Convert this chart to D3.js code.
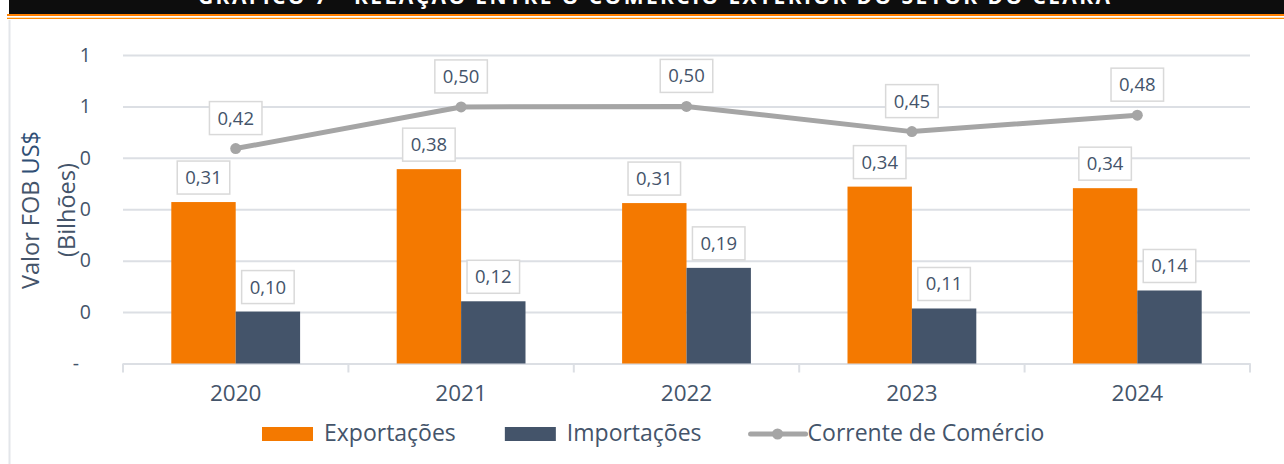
<!DOCTYPE html>
<html>
<head>
<meta charset="utf-8">
<script src="https://cdn.jsdelivr.net/npm/d3@7"></script>
<style>
  body { margin: 0; background: #fff; }
  text { font-family: "Open Sans", "Noto Sans", sans-serif; }
</style>
</head>
<body>
<div id="chart-div"></div>
<script>
// data (US$ bilhões)
const years = ["2020", "2021", "2022", "2023", "2024"];
const exportacoes = [0.314, 0.378, 0.312, 0.344, 0.341];
const importacoes = [0.101, 0.121, 0.186, 0.107, 0.142];
const corrente = [0.418, 0.499, 0.500, 0.451, 0.483];
const seriesNames = ["Exportações", "Importações", "Corrente de Comércio"];
const yTicks = [0, 0.1, 0.2, 0.3, 0.4, 0.5, 0.6];
const yTickLabels = ["-", "0", "0", "0", "0", "1", "1"];
const title = "GRÁFICO 7 - RELAÇÃO ENTRE O COMÉRCIO EXTERIOR DO SETOR DO CEARÁ";

// set the dimensions of the graph
const W = 1284, H = 464;
const plot = {left: 123, right: 1250, top: 55, bottom: 363.5};

const orange = "#f47900", navy = "#44546a", gray = "#a5a5a5",
      textColor = "#44546a", gridColor = "#dcdfe4";

const fmt = v => d3.format(".2f")(v).replace(".", ",");

function draw_chart() {
  let svg = d3.select("#chart-div")
              .append("svg")
              .attr("width", W)
              .attr("height", H);

  // header bar with title (only its lower part shows, as in the source)
  svg.append("rect").attr("x", 9).attr("y", 0).attr("width", W - 9).attr("height", 14).attr("fill", "#0d0d0d");
  svg.append("rect").attr("x", 7).attr("y", 14).attr("width", W - 7).attr("height", 2).attr("fill", "#ff8000");
  svg.append("rect").attr("x", 7).attr("y", 17.7).attr("width", W - 7).attr("height", 1.3).attr("fill", "#ff8a00");
  svg.append("text")
    .attr("x", 654).attr("y", 4)
    .attr("text-anchor", "middle")
    .attr("textLength", 912).attr("lengthAdjust", "spacing")
    .attr("fill", "#fff").attr("font-weight", "bold").attr("font-size", 21)
    .text(title);
  // left frame border
  svg.append("line").attr("x1", 9.5).attr("x2", 9.5).attr("y1", 20).attr("y2", H)
    .attr("stroke", "#e3e6ea").attr("stroke-width", 2);

  const y = d3.scaleLinear().domain([0, 0.6]).range([plot.bottom, plot.top]);
  const x = d3.scaleBand().domain(years).range([plot.left, plot.right]);
  const xSub = d3.scaleBand().domain(["exp", "imp"]).range([0, x.bandwidth()]).paddingOuter(0.75);

  // gridlines + y tick labels
  const yAxis = svg.append("g")
    .attr("transform", `translate(${plot.left},0)`)
    .call(d3.axisLeft(y).tickValues(yTicks)
      .tickSize(-(plot.right - plot.left))
      .tickPadding(32)
      .tickFormat((d, i) => yTickLabels[i]));
  yAxis.select(".domain").remove();
  yAxis.selectAll(".tick line").attr("stroke", gridColor).attr("stroke-width", 2);
  yAxis.selectAll(".tick text")
    .attr("fill", textColor).attr("font-size", 19.5)
    .attr("font-family", "Open Sans")
    .attr("dx", d => d === 0 ? -12 : 0);

  // y axis title
  const yt = svg.append("text")
    .attr("transform", "translate(39,210) rotate(-90)")
    .attr("text-anchor", "middle")
    .attr("font-size", 23.5).attr("fill", textColor);
  yt.append("tspan").text("Valor FOB ");
  yt.append("tspan").attr("fill", "#2f4f75").text("US$");
  svg.append("text")
    .attr("transform", "translate(75,210) rotate(-90)")
    .attr("text-anchor", "middle")
    .attr("font-size", 23.5).attr("fill", textColor)
    .text("(Bilhões)");

  // x axis: baseline, boundary ticks, labels
  const xAxis = svg.append("g")
    .attr("transform", `translate(0,${plot.bottom})`)
    .call(d3.axisBottom(x).tickSize(0).tickPadding(20));
  xAxis.select(".domain").attr("stroke", gridColor).attr("stroke-width", 2);
  xAxis.selectAll(".tick text").attr("fill", textColor).attr("font-size", 22.5)
    .attr("font-family", "Open Sans").attr("dy", "0.71em")
    .attr("y", 22);
  svg.append("g").selectAll("line")
    .data(years.map(d => x(d)).concat([plot.right]))
    .join("line")
    .attr("x1", d => d).attr("x2", d => d)
    .attr("y1", plot.bottom).attr("y2", plot.bottom + 9)
    .attr("stroke", gridColor).attr("stroke-width", 2);

  // bars
  const rows = years.map((yr, i) => ({yr, exp: exportacoes[i], imp: importacoes[i], cor: corrente[i]}));
  const g = svg.append("g").selectAll("g").data(rows).join("g")
    .attr("transform", d => `translate(${x(d.yr)},0)`);
  g.append("rect")
    .attr("x", xSub("exp")).attr("width", xSub.bandwidth())
    .attr("y", d => y(d.exp)).attr("height", d => y(0) - y(d.exp))
    .attr("fill", orange);
  g.append("rect")
    .attr("x", xSub("imp")).attr("width", xSub.bandwidth())
    .attr("y", d => y(d.imp)).attr("height", d => y(0) - y(d.imp))
    .attr("fill", navy);

  // line
  const cx = d => x(d.yr) + x.bandwidth() / 2;
  svg.append("path")
    .datum(rows)
    .attr("fill", "none").attr("stroke", gray).attr("stroke-width", 5)
    .attr("stroke-linejoin", "round")
    .attr("d", d3.line().x(cx).y(d => y(d.cor)));
  svg.append("g").selectAll("circle").data(rows).join("circle")
    .attr("cx", cx).attr("cy", d => y(d.cor)).attr("r", 5.5)
    .attr("fill", gray);

  // boxed data labels
  const labels = [];
  rows.forEach(d => {
    labels.push({x: x(d.yr) + xSub("exp") + xSub.bandwidth() / 2, y: y(d.exp) - 8, v: d.exp});
    labels.push({x: x(d.yr) + xSub("imp") + xSub.bandwidth() / 2, y: y(d.imp) - 8, v: d.imp});
    labels.push({x: cx(d), y: y(d.cor) - 14, v: d.cor});
  });
  const lg = svg.append("g").selectAll("g").data(labels).join("g")
    .attr("transform", d => `translate(${d.x},${d.y})`);
  lg.append("rect").attr("fill", "#fff").attr("stroke", "#d9d9d9").attr("stroke-width", 1.5);
  lg.append("text")
    .attr("text-anchor", "middle").attr("y", -10)
    .attr("font-size", 18.5).attr("fill", textColor)
    .text(d => fmt(d.v));
  lg.each(function() {
    const t = d3.select(this).select("text").node().getComputedTextLength();
    d3.select(this).select("rect")
      .attr("x", -t / 2 - 8).attr("width", t + 16)
      .attr("y", -33).attr("height", 33);
  });

  // legend
  const legend = svg.append("g");
  let lx = 262;
  seriesNames.forEach((name, i) => {
    if (i < 2) {
      legend.append("rect").attr("x", lx).attr("y", 427).attr("width", 51).attr("height", 14)
        .attr("fill", i === 0 ? orange : navy);
      lx += 51 + 11;
    } else {
      legend.append("line").attr("x1", lx).attr("x2", lx + 55).attr("y1", 434).attr("y2", 434)
        .attr("stroke", gray).attr("stroke-width", 5).attr("stroke-linecap", "round");
      legend.append("circle").attr("cx", lx + 27).attr("cy", 434).attr("r", 5.5).attr("fill", gray);
      lx += 57;
    }
    const t = legend.append("text").attr("x", lx).attr("y", 441)
      .attr("font-size", 23).attr("fill", textColor).text(name);
    lx += t.node().getComputedTextLength() + 49;
  });
}

draw_chart();
</script>
</body>
</html>
